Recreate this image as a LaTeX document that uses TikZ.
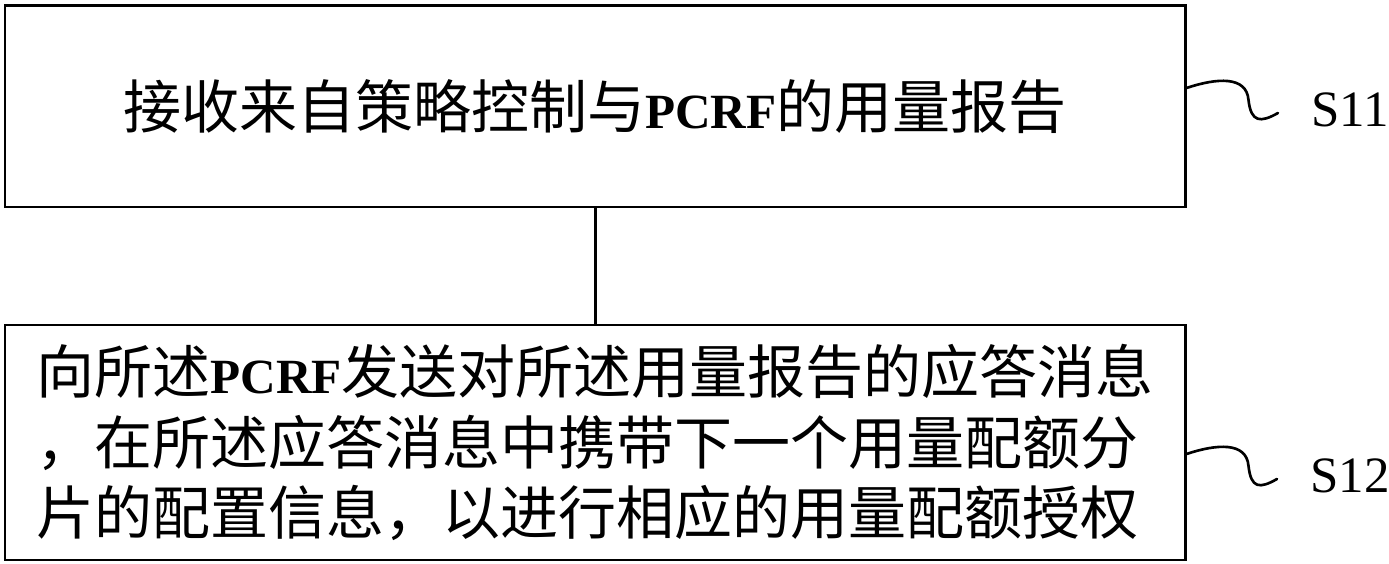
\documentclass[tikz,border=0pt]{standalone}
\usepackage{fontspec}
\setmainfont{Liberation Serif}
\newfontfamily\cjk{Noto Sans CJK SC}
\usetikzlibrary{positioning,calc}
\newcommand{\pcrf}{{\rmfamily\bfseries\fontsize{28}{40}\selectfont PCRF}}

\begin{document}
\begin{tikzpicture}[
    stepbox/.style={draw, line width=1.7pt, minimum width=23.6cm, inner sep=0pt, align=left, font=\cjk\fontsize{33}{40}\selectfont},
    steplabel/.style={inner sep=0pt, font=\fontsize{29}{29}\selectfont},
    squiggle/.style={line width=1.5pt, line cap=round}
]
    \useasboundingbox (0,0) rectangle (27.78,11.26);

    % Steps
    \node[stepbox, minimum height=4.02cm] (step1) at (11.9,9.13) {接收来自策略控制与\pcrf 的用量报告};
    \node[stepbox, minimum height=4.70cm] (step2) at (11.9,2.41) {向所述\pcrf 发送对所述用量报告的应答消息\\，在所述应答消息中携带下一个用量配额分\\片的配置信息，以进行相应的用量配额授权};

    % Connector
    \draw[line width=1.7pt] (step1) -- (step2);

    % Step labels
    \node[steplabel] (lbl1) at (27.0,9.06) {S11};
    \node[steplabel] (lbl2) at (27.0,1.74) {S12};

    % Squiggles
    \foreach \n/\dy in {1/3.7mm, 2/-2.3mm} {
        \draw[squiggle] ([yshift=\dy]step\n.east) .. controls +(0.6,0.2) and +(-0.04,0.49) .. ++(1.24,-0.24)
            .. controls +(0.05,-0.45) and +(-0.35,-0.2) .. ([xshift=-6.6mm,yshift=-0.6mm]lbl\n.west);
    }
\end{tikzpicture}
\end{document}
